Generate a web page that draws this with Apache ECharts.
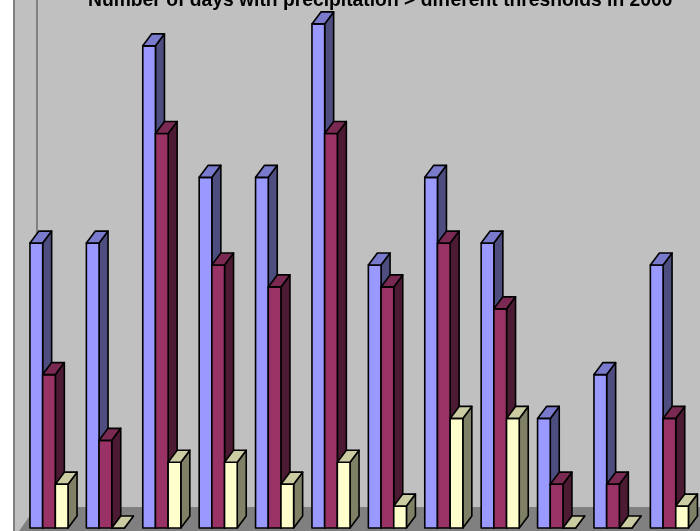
<!DOCTYPE html>
<html>
<head>
<meta charset="utf-8">
<script src="https://cdn.jsdelivr.net/npm/echarts@6/dist/echarts.min.js"></script>
<style>html,body{margin:0;padding:0;background:#fff;}#c{width:700px;height:531px;}</style>
</head>
<body>
<div id="c"></div>
<script>
const categories = ['Jan','Feb','Mar','Apr','May','Jun','Jul','Aug','Sep','Oct','Nov','Dec'];
const seriesNames = ['Threshold 1','Threshold 2','Threshold 3'];
const blueValues = [13,13,22,16,16,23,12,16,13,5,7,12];
const maroonValues = [7,4,18,12,11,18,11,13,10,2,2,5];
const yellowValues = [2,0,3,3,2,3,1,5,5,0,0,1];
const titleText = 'Number of days with precipitation > different thresholds in 2000';

const palettes = [
  {front:'#9999FF', side:'#4D4D80', top:'#7A7ACC'},
  {front:'#993366', side:'#4D1A33', top:'#7A2952'},
  {front:'#FFFFCC', side:'#808066', top:'#CCCCA3'}
];
const DX = 9, DY = 12;

function makeRender(k) {
  const pal = palettes[k];
  return function (params, api) {
    const idx = api.value(0), v = api.value(1);
    const base = api.coord([idx, 0]);
    const top = api.coord([idx, v]);
    const band = api.size([1, 0])[0];
    const w = band * 0.225;
    const x0 = base[0] - 1.5 * w + k * w;
    const y0 = base[1], y1 = top[1];
    const st = {stroke:'#000', lineWidth:1.6, lineJoin:'round'};
    return {
      type:'group',
      children:[
        {type:'polygon', shape:{points:[[x0+w,y1],[x0+w+DX,y1-DY],[x0+w+DX,y0-DY],[x0+w,y0]]}, style:Object.assign({fill:pal.side}, st)},
        {type:'rect', shape:{x:x0, y:y1, width:w, height:y0-y1}, style:Object.assign({fill:pal.front}, st)},
        {type:'polygon', shape:{points:[[x0,y1],[x0+DX,y1-DY],[x0+w+DX,y1-DY],[x0+w,y1]]}, style:Object.assign({fill:pal.top}, st)}
      ]
    };
  };
}

const allValues = [blueValues, maroonValues, yellowValues];
const chart = echarts.init(document.getElementById('c'), null, {renderer:'canvas'});
chart.setOption({
  backgroundColor:'#ffffff',
  animation:false,
  title:{text:titleText, left:83, top:-14, textStyle:{fontFamily:'Liberation Sans, Arial, sans-serif', fontSize:19.3, fontWeight:'bold', color:'#000'}},
  grid:{left:20.8, top:2, width:676.8, bottom:3},
  xAxis:{type:'category', data:categories, show:false},
  yAxis:{type:'value', min:0, max:24, show:false},
  graphic:[
    {type:'rect', z:-10, shape:{x:13, y:0, width:687, height:531}, style:{fill:'#C0C0C0'}},
    {type:'polygon', z:-9, shape:{points:[[36,507],[700,507],[700,531],[19,531]]}, style:{fill:'#808080'}},
    {type:'rect', z:-9, shape:{x:13, y:0, width:2, height:531}, style:{fill:'#808080'}},
    {type:'rect', z:-9, shape:{x:36, y:0, width:2, height:507}, style:{fill:'#808080'}}
  ],
  series: allValues.map((vals, k) => ({
    type:'custom',
    name:seriesNames[k],
    coordinateSystem:'cartesian2d',
    clip:false,
    renderItem:makeRender(k),
    encode:{x:0, y:1},
    data:vals.map((v,i)=>[i,v])
  }))
});
</script>
</body>
</html>
